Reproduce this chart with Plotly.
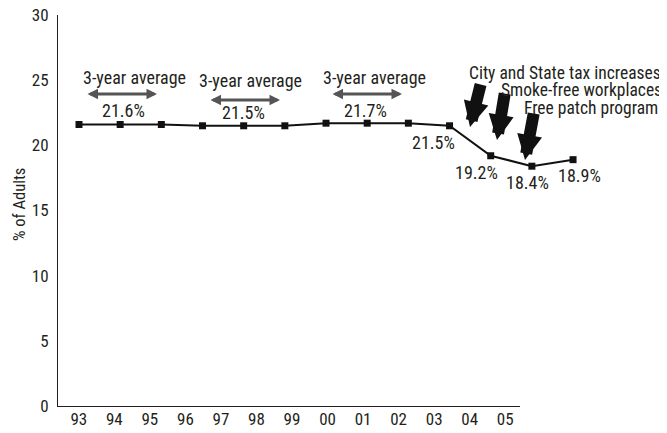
import plotly.graph_objects as go

# ---- data ----
years = ["93", "94", "95", "96", "97", "98", "99", "00", "01", "02", "03", "04", "05"]
smoking_pct = [21.6, 21.6, 21.6, 21.5, 21.5, 21.5, 21.7, 21.7, 21.7, 21.5, 19.2, 18.4, 18.9]
avg_labels = ["21.6%", "21.5%", "21.7%"]
avg_groups = [(0, 2), (3, 5), (6, 8)]
point_labels = {9: "21.5%", 10: "19.2%", 11: "18.4%", 12: "18.9%"}
policy_labels = ["City and State tax increases", "Smoke-free workplaces", "Free patch program"]
y_ticks = [0, 5, 10, 15, 20, 25, 30]
y_title = "% of Adults"

FONT = "Roboto Condensed, Liberation Sans Narrow, Arial Narrow, sans-serif"
INK = "#231f20"
OFF = 8                      # default page margin of the html body
W, H = 667 - OFF, 433 - OFF
AXL, AXT, AXB = 58, 15, 406  # axis positions in screenshot pixels
ML, MT = AXL - OFF, AXT - OFF
MB = H - (AXB - OFF)
MR = 0
PW = W - ML - MR
PH = AXB - AXT
X0, X1 = -0.51, 14.282


def X(px):
    return X0 + (px - AXL) / PW * (X1 - X0)


def Y(py):
    return (AXB - py) / PH * 30


fig = go.Figure()
# invisible trace to populate the labelled category axis
fig.add_trace(go.Scatter(x=years, y=smoking_pct, xaxis="x", yaxis="y", mode="lines",
                         opacity=0, hoverinfo="skip", showlegend=False))
# actual data line
fig.add_trace(go.Scatter(x=list(range(len(years))), y=smoking_pct, xaxis="x2", yaxis="y",
                         mode="lines+markers",
                         line=dict(color="#111111", width=2),
                         marker=dict(symbol="square", size=7, color="#111111"),
                         showlegend=False, cliponaxis=False))

ann = []
# y-axis title (paper coordinates so it may sit left of the plot area)
ann.append(dict(x=(19 - AXL) / PW, y=(AXB - 205) / PH, xref="paper", yref="paper",
                text=y_title, textangle=-90, xanchor="center", yanchor="middle",
                showarrow=False, font=dict(size=16.5, color=INK, family=FONT)))

# point labels
shifts = {9: (-16, -17), 10: (-14, -17), 11: (-4, -16), 12: (6, -16)}
for i, t in point_labels.items():
    ann.append(dict(x=i, y=smoking_pct[i], xref="x2", yref="y", text=t, showarrow=False,
                    xshift=shifts[i][0], yshift=shifts[i][1], font=dict(size=18, color=INK, family=FONT)))

# 3-year averages
avg_text_shift = [(3, 13.5), (0, 13), (-2, 13)]
head_shift = [(14, 46.5), (7, 45), (7, 46)]
arrow_y_px = [94, 100, 94]
for k, ((a, b), lab) in enumerate(zip(avg_groups, avg_labels)):
    mid = (a + b) / 2
    yv = smoking_pct[a + 1]
    ann.append(dict(x=mid, y=yv, xref="x2", yref="y", text=lab, showarrow=False,
                    xshift=avg_text_shift[k][0], yshift=avg_text_shift[k][1],
                    font=dict(size=18, color=INK, family=FONT)))
    ann.append(dict(x=mid, y=yv, xref="x2", yref="y", text="3-year average", showarrow=False,
                    xshift=head_shift[k][0], yshift=head_shift[k][1],
                    font=dict(size=18, color=INK, family=FONT)))

# gray double-headed arrows
for (xa, xb), py in zip([(86, 157), (209, 280), (331, 402)], arrow_y_px):
    ann.append(dict(x=X(xb), y=Y(py), ax=X(xa), ay=Y(py), xref="x2", yref="y",
                    axref="x2", ayref="y", text="", showarrow=True,
                    arrowhead=2, startarrowhead=2, arrowside="end+start",
                    arrowsize=0.7, startarrowsize=0.7, arrowwidth=3, arrowcolor="#555555"))

# black block arrows
for (tx, ty), (hx, hy) in [((481, 83), (470, 127)), ((505, 92), (497, 140)), ((534, 112), (525, 160))]:
    ann.append(dict(x=X(hx), y=Y(hy), ax=X(tx), ay=Y(ty), xref="x2", yref="y",
                    axref="x2", ayref="y", text="", showarrow=True,
                    arrowhead=2, arrowsize=0.42, arrowwidth=12, arrowcolor="#111111"))

# policy text
for lab, (rx, py) in zip(policy_labels, [(663, 73), (664, 90), (660, 108)]):
    ann.append(dict(x=X(rx), y=Y(py), xref="x2", yref="y", text=lab, showarrow=False,
                    xanchor="right", yanchor="middle", font=dict(size=17.5, color=INK, family=FONT)))

fig.update_layout(
    width=W, height=H,
    margin=dict(l=ML, r=MR, t=MT, b=MB, pad=0, autoexpand=False),
    paper_bgcolor="white", plot_bgcolor="white",
    font=dict(family=FONT, color=INK),
    xaxis=dict(type="category", categoryorder="array", categoryarray=years,
               domain=[0, (520 - AXL) / PW], range=[-0.5, len(years) - 0.5], anchor="y",
               showline=True, linecolor=INK, linewidth=1, ticks="inside", ticklen=10,
               tickcolor=INK, tickson="boundaries", showgrid=False, zeroline=False,
               automargin=False, ticklabelstandoff=-2, ticklabelshift=3,
               ticklabeloverflow="allow",
               tickfont=dict(size=17, color=INK, family=FONT)),
    xaxis2=dict(domain=[0, 1], range=[X0, X1], anchor="y", visible=False, showgrid=False,
                automargin=False),
    yaxis=dict(range=[0, 30], tickvals=y_ticks, anchor="x", showline=True, linecolor=INK, linewidth=1,
               ticks="inside", ticklen=12, tickcolor=INK, showgrid=False, zeroline=False,
               ticklabelstandoff=5, automargin=False, ticklabeloverflow="allow",
               tickfont=dict(size=17, color=INK, family=FONT)),
    annotations=ann,
)

fig.write_html("out.html")
